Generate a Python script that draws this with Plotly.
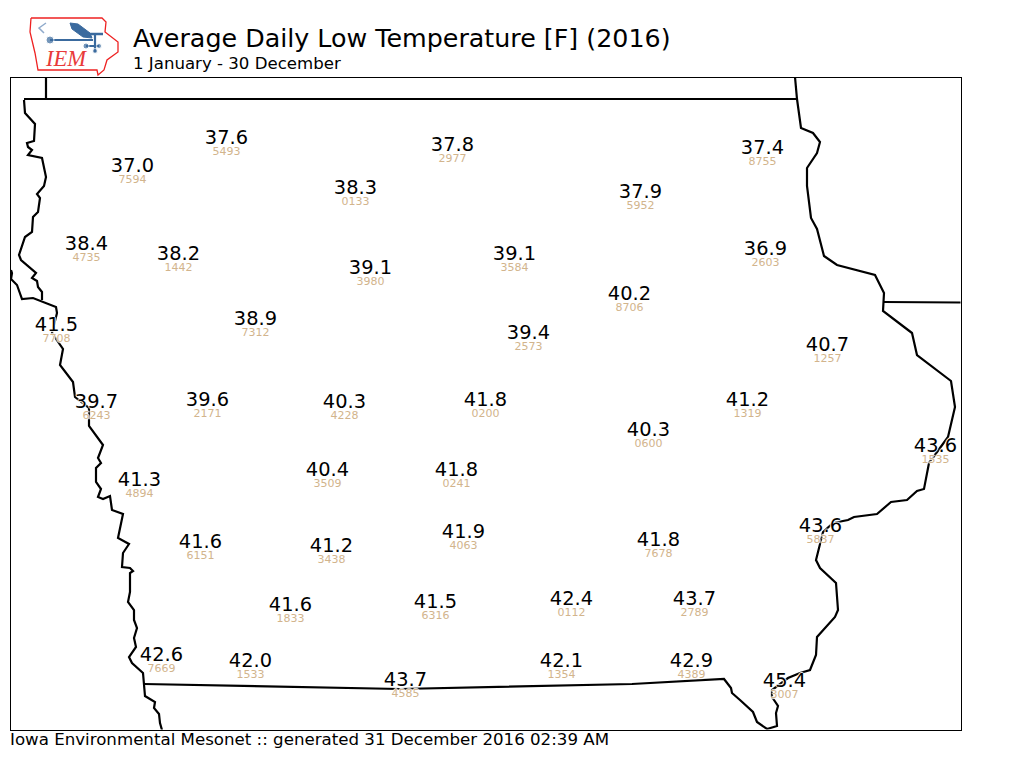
import plotly.graph_objects as go

TITLE = "Average Daily Low Temperature [F] (2016)"
SUBTITLE = "1 January - 30 December"
FOOTER = "Iowa Environmental Mesonet :: generated 31 December 2016 02:39 AM"

station_x = [226,132,452,762,355,640,86,178,370,514,765,629,56,255,528,827,96,207,344,485,747,648,935,139,327,456,820,200,331,463,658,290,435,571,694,161,250,405,561,691,784]
station_y = [137,165,144,147,187,191,243,253,267,253,248,293,324,318,332,344,401,399,401,399,399,429,445,479,469,469,525,541,545,531,539,604,601,598,598,654,660,679,660,660,680]
low_temp = ["37.6","37.0","37.8","37.4","38.3","37.9","38.4","38.2","39.1","39.1","36.9","40.2","41.5","38.9","39.4","40.7","39.7","39.6","40.3","41.8","41.2","40.3","43.6","41.3","40.4","41.8","43.6","41.6","41.2","41.9","41.8","41.6","41.5","42.4","43.7","42.6","42.0","43.7","42.1","42.9","45.4"]
station_id = ["5493","7594","2977","8755","0133","5952","4735","1442","3980","3584","2603","8706","7708","7312","2573","1257","6243","2171","4228","0200","1319","0600","1535","4894","3509","0241","5837","6151","3438","4063","7678","1833","6316","0112","2789","7669","1533","4585","1354","4389","3007"]

# State border, map coordinates
iowa_x = [24,25,35,34,27,28,32,28,42,46,44,37,40,38,33,32,25,19,21,36,32,37,38,42,42]
iowa_y = [100,113,124,141,143,147,150,155,158,177,186,194,198,212,217,232,237,255,260,273,278,281,287,292,300]
west_x = [11,12,11,17,22,33,56,57,52,63,60,73,75,89,89,103,98,101,96,96,101,98,103,110,112,123,118,129,123,122,130,133,130,130,128,134,134,137,134,136,129,132,143,145,155,154,159,160,162]
west_y = [270,273,279,285,299,298,307,313,333,349,365,382,397,408,426,445,458,463,468,482,489,497,499,496,510,514,538,544,553,567,568,571,573,592,602,610,620,628,638,647,657,663,673,696,702,708,714,723,730]
north_x = [24,797]
north_y = [99,99]
stub_x = [46,46]
stub_y = [77,99]
south_x = [144,400,632,724,731,732,740,753,757,767,777,776,778,772,772,788,800,810,816,817,835,838,836,820,816,823,833,848,854,877,891,907,917,924,929,948,955,951,917,912,883,884,875,837,824,817,811,807,807,817,820,813,801,797,795]
south_y = [684,689,684,679,688,693,700,712,722,729,726,713,706,697,690,678,673,670,655,637,617,610,583,568,560,532,523,520,517,514,502,500,491,489,463,437,407,381,355,333,311,293,275,265,256,229,218,186,168,153,142,133,128,99,77]
wisc_x = [884,961]
wisc_y = [302,302.5]

# Logo outlines, page coordinates
logo_x = [31,102,106,105,118,118,107,104,98,97,38,35,30,31]
logo_y = [18,18,22,32,42,52,60,70,75,70,70,53,32,18]
vane_x = [50,93]
vane_y = [40,40]
tail_x = [70,78,90,92,83,72,70]
tail_y = [23,24,33,38,37,29,23]
arm_x = [89,103]
arm_y = [34,34]
fin_x = [46,39,44]
fin_y = [23,28,33]
cross_x = [86,99]
cross_y = [46,46]
post_x = [95,95]
post_y = [34,52]

HALO = "white 1px 0 1px, white -1px 0 1px, white 0 1px 1px, white 0 -1px 1px"
FONT = "DejaVu Sans"
BLUE = "#3A6A9E"

fig = go.Figure()
for xs, ys in [(iowa_x, iowa_y), (west_x, west_y), (north_x, north_y), (stub_x, stub_y), (south_x, south_y), (wisc_x, wisc_y)]:
    fig.add_trace(go.Scatter(x=xs, y=ys, mode="lines", line=dict(color="black", width=2.2), hoverinfo="skip", showlegend=False))

fig.add_trace(go.Scatter(x=[v + 0.4 for v in station_x], y=[v + 2 for v in station_y], mode="text", text=low_temp, textposition="middle center",
                         textfont=dict(family=FONT, size=19.4, color="black", shadow=HALO), showlegend=False))
fig.add_trace(go.Scatter(x=[v + 0.4 for v in station_x], y=[v + 15 for v in station_y], mode="text", text=station_id, textposition="middle center",
                         textfont=dict(family=FONT, size=11, color="tan", shadow=HALO), showlegend=False))

# Logo on a full-page overlay
fig.add_trace(go.Scatter(x=logo_x, y=logo_y, xaxis="x2", yaxis="y2", mode="lines", line=dict(color="#EE2222", width=1.3), showlegend=False, hoverinfo="skip"))
fig.add_trace(go.Scatter(x=tail_x, y=tail_y, xaxis="x2", yaxis="y2", mode="lines", fill="toself", fillcolor=BLUE, line=dict(color=BLUE, width=1), showlegend=False, hoverinfo="skip"))
for xs, ys, w in [(vane_x, vane_y, 2.2), (arm_x, arm_y, 2.5), (cross_x, cross_y, 2), (post_x, post_y, 2.2), (fin_x, fin_y, 1.5)]:
    col = "#8FAACB" if w == 1.5 else BLUE
    fig.add_trace(go.Scatter(x=xs, y=ys, xaxis="x2", yaxis="y2", mode="lines", line=dict(color=col, width=w), showlegend=False, hoverinfo="skip"))
fig.add_trace(go.Scatter(x=[50,86,99,95], y=[40,46,46,51], xaxis="x2", yaxis="y2", mode="markers", marker=dict(color=BLUE, size=[8,6,5,5]), showlegend=False, hoverinfo="skip"))
fig.add_trace(go.Scatter(x=[66], y=[60], xaxis="x2", yaxis="y2", mode="text", text=["<i>IEM</i>"], textfont=dict(family="Liberation Serif", size=22.5, color="#E83A3A"), showlegend=False, hoverinfo="skip"))

# Header and footer
fig.add_trace(go.Scatter(x=[133,133,10], y=[40.5,65,741], xaxis="x2", yaxis="y2", mode="text", text=[TITLE,SUBTITLE,FOOTER], textposition="middle right",
                         textfont=dict(family=FONT, size=[25.35,16.6,16.65], color="black"), showlegend=False, hoverinfo="skip"))

ax = dict(showgrid=False, zeroline=False, showticklabels=False, ticks="")
fig.update_layout(
    width=1024, height=768, margin=dict(l=0, r=0, t=0, b=0, pad=0), showlegend=False,
    paper_bgcolor="white", plot_bgcolor="rgba(0,0,0,0)",
    xaxis=dict(range=[10.5,960.5], domain=[10.5/1024,960.5/1024], showline=True, mirror=True, linecolor="black", linewidth=1, anchor="y", **ax),
    yaxis=dict(range=[729.5,77.5], domain=[1-729.5/768,1-77.5/768], showline=True, mirror=True, linecolor="black", linewidth=1, anchor="x", **ax),
    xaxis2=dict(range=[0,1024], domain=[0,1], anchor="y2", visible=False),
    yaxis2=dict(range=[768,0], domain=[0,1], anchor="x2", visible=False),
)
fig.write_html("out.html", config={"displayModeBar": False}, post_script="document.body.style.margin='0';")
